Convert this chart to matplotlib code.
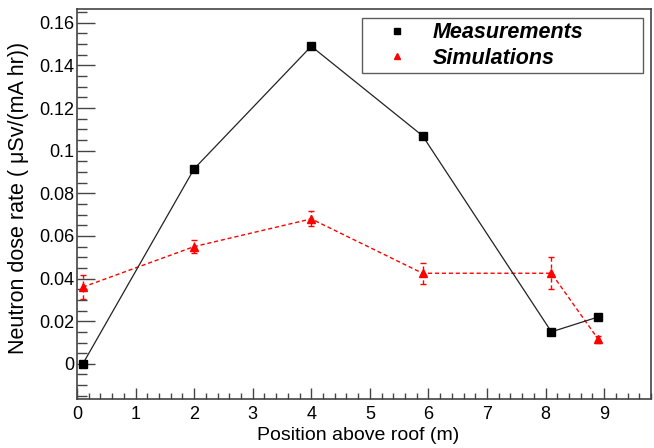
import matplotlib
matplotlib.use('Agg')
from matplotlib import pyplot as plt
from matplotlib.ticker import MultipleLocator
from matplotlib.lines import Line2D
import numpy as np

plt.rcParams['font.family'] = ['Liberation Sans', 'DejaVu Sans']

# data
meas_x = [0.1, 2.0, 4.0, 5.9, 8.1, 8.9]
meas_y = [0.0, 0.0915, 0.149, 0.107, 0.015, 0.022]

sim_x = [0.1, 2.0, 4.0, 5.9, 8.1, 8.9]
sim_y = [0.036, 0.055, 0.068, 0.0425, 0.0425, 0.0115]
sim_err = [0.0055, 0.003, 0.0035, 0.005, 0.0075, 0.0015]

fig = plt.figure(figsize=(6.54, 4.48), dpi=100)
ax = fig.add_axes([0.1177, 0.1094, 0.8777, 0.8706])

ax.plot(meas_x, meas_y, color='#222222', lw=0.9, marker='s', ms=6,
        mfc='black', mec='black', zorder=3)
eb = ax.errorbar(sim_x, sim_y, yerr=sim_err, color='red', ls='--', lw=1.0,
                 dashes=(3, 2), marker='^', ms=6, capsize=2, elinewidth=1.0,
                 zorder=2)
eb[2][0].set_linestyle((0, (3, 2)))

ax.set_xlim(0, 9.8)
ax.set_ylim(-0.0165, 0.1665)

ax.xaxis.set_major_locator(MultipleLocator(1))
ax.xaxis.set_minor_locator(MultipleLocator(0.2))
ax.yaxis.set_minor_locator(MultipleLocator(0.005))
ax.set_yticks([0, 0.02, 0.04, 0.06, 0.08, 0.1, 0.12, 0.14, 0.16])
ax.set_yticklabels(['0', '0.02', '0.04', '0.06', '0.08', '0.1', '0.12', '0.14', '0.16'])

ax.tick_params(which='both', direction='in', top=False, right=False,
               labelsize=13, colors='#444444', labelcolor='black')
ax.tick_params(axis='y', which='major', length=13, width=1, pad=2)
ax.tick_params(axis='y', which='minor', length=7, width=1)
ax.tick_params(axis='x', which='major', length=8, width=1, pad=5)
ax.tick_params(axis='x', which='minor', length=4, width=1)
for s in ax.spines.values():
    s.set_color('#444444')
    s.set_linewidth(1.2)

ax.set_xlabel('Position above roof (m)', fontsize=14)
ax.xaxis.set_label_coords(0.49, -0.072)
ax.set_ylabel('Neutron dose rate ( \u03bcSv/(mA hr))', fontsize=15.5)
ax.yaxis.set_label_coords(-0.084, 0.515)

handles = [Line2D([], [], ls='none', marker='s', color='black', ms=5),
           Line2D([], [], ls='none', marker='^', color='red', ms=5)]
leg = ax.legend(handles, ['Measurements', 'Simulations'],
                loc='upper left', bbox_to_anchor=(0.4965, 0.977, 0.4895, 0.0),
                mode='expand', frameon=True, fancybox=False,
                edgecolor='#333333', borderpad=0.2, borderaxespad=0,
                handlelength=2.85, handletextpad=0.22, labelspacing=0.2,
                prop={'size': 15.5, 'weight': 'bold', 'style': 'italic'})
leg.get_frame().set_linewidth(1.0)

fig.savefig('out.png', dpi=100)
